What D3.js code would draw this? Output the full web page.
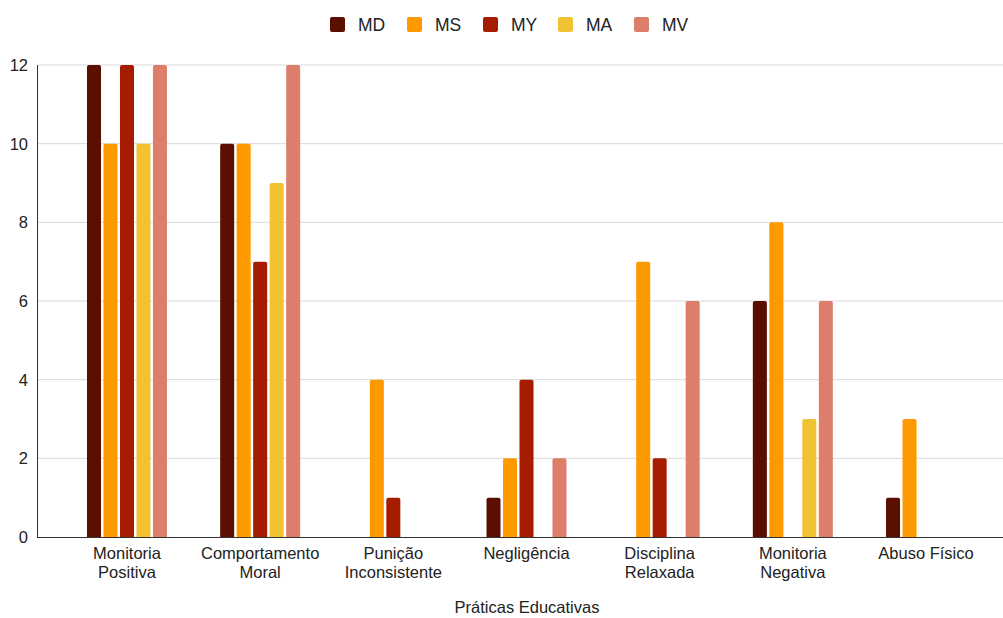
<!DOCTYPE html>
<html><head><meta charset="utf-8">
<script src="https://cdn.jsdelivr.net/npm/d3@7"></script>
<style>body{margin:0;background:#fff;} text{font-family:"Liberation Sans",Arial,sans-serif;}</style>
</head><body>
<svg id="c" width="1003" height="618"></svg>
<script>
const categories = [["Monitoria","Positiva"],["Comportamento","Moral"],["Punição","Inconsistente"],["Negligência"],["Disciplina","Relaxada"],["Monitoria","Negativa"],["Abuso Físico"]];
const seriesNames = ["MD","MS","MY","MA","MV"];
const seriesColors = ["#5b0f00","#ff9900","#a61c00","#f1c232","#dd7e6b"];
const MD = [12,10,0,1,0,6,1];
const MS = [10,10,4,2,7,8,3];
const MY = [12,7,1,4,2,0,0];
const MA = [10,9,0,0,0,3,0];
const MV = [12,12,0,2,6,6,0];
const values = [MD,MS,MY,MA,MV];
const yTicks = [0,2,4,6,8,10,12];
const xTitle = "Práticas Educativas";

const svg = d3.select("#c");
const catKeys = categories.map(c=>c.join(" "));
const y = d3.scaleLinear().domain([0,12]).range([537,65]);
const x0 = d3.scaleBand().domain(catKeys).range([60.4,992.6]).padding(0);
const bw = x0.bandwidth();
const x1 = d3.scaleBand().domain(seriesNames).range([bw/2-40,bw/2+40]).paddingInner(0.15).paddingOuter(0);

// gridlines
svg.append("g").selectAll("line").data(yTicks.filter(d=>d>0)).join("line")
  .attr("x1",37).attr("x2",1003).attr("y1",d=>y(d)).attr("y2",d=>y(d))
  .attr("stroke","#d9d9d9").attr("stroke-width",1);
// y labels
svg.append("g").selectAll("text").data(yTicks).join("text")
  .attr("x",28).attr("y",d=>y(d)).attr("dy","0.36em").attr("text-anchor","end")
  .attr("font-size",16.5).attr("fill","#222").text(d=>d);

// bars
const rr = 2;
function barPath(xp,w,y0,y1){
  const h=y0-y1; if(h<=0) return "";
  const r=Math.min(rr,h,w/2);
  return `M${xp},${y0}V${y1+r}Q${xp},${y1} ${xp+r},${y1}H${xp+w-r}Q${xp+w},${y1} ${xp+w},${y1+r}V${y0}Z`;
}
seriesNames.forEach((s,si)=>{
  svg.append("g").selectAll("path").data(values[si].map((v,i)=>({v,k:catKeys[i]}))).join("path")
    .attr("d",d=>barPath(x0(d.k)+x1(s),x1.bandwidth(),y(0),y(d.v)))
    .attr("fill",seriesColors[si]);
});

// axes lines
svg.append("line").attr("x1",37).attr("x2",1003).attr("y1",y(0)+0.5).attr("y2",y(0)+0.5).attr("stroke","#333").attr("stroke-width",1);
svg.append("line").attr("x1",37.5).attr("x2",37.5).attr("y1",y(12)).attr("y2",y(0)+1).attr("stroke","#333").attr("stroke-width",1);

// x labels
const xl = svg.append("g");
categories.forEach((c,i)=>{
  const t = xl.append("text").attr("x",x0(catKeys[i])+bw/2).attr("y",559).attr("text-anchor","middle").attr("font-size",16.5).attr("fill","#222");
  c.forEach((line,j)=>t.append("tspan").attr("x",x0(catKeys[i])+bw/2).attr("dy",j?18.5:0).text(line));
});
svg.append("text").attr("x",527).attr("y",613).attr("text-anchor","middle").attr("font-size",16.5).attr("fill","#222").text(xTitle);

// legend
const lx = [330,407,483,558,634];
const lg = svg.append("g");
seriesNames.forEach((s,i)=>{
  lg.append("rect").attr("x",lx[i]).attr("y",17).attr("width",15).attr("height",15).attr("rx",2).attr("fill",seriesColors[i]);
  lg.append("text").attr("x",lx[i]+28).attr("y",24.5).attr("dy","0.36em").attr("font-size",17.5).attr("fill","#222").text(s);
});
</script>
</body></html>
